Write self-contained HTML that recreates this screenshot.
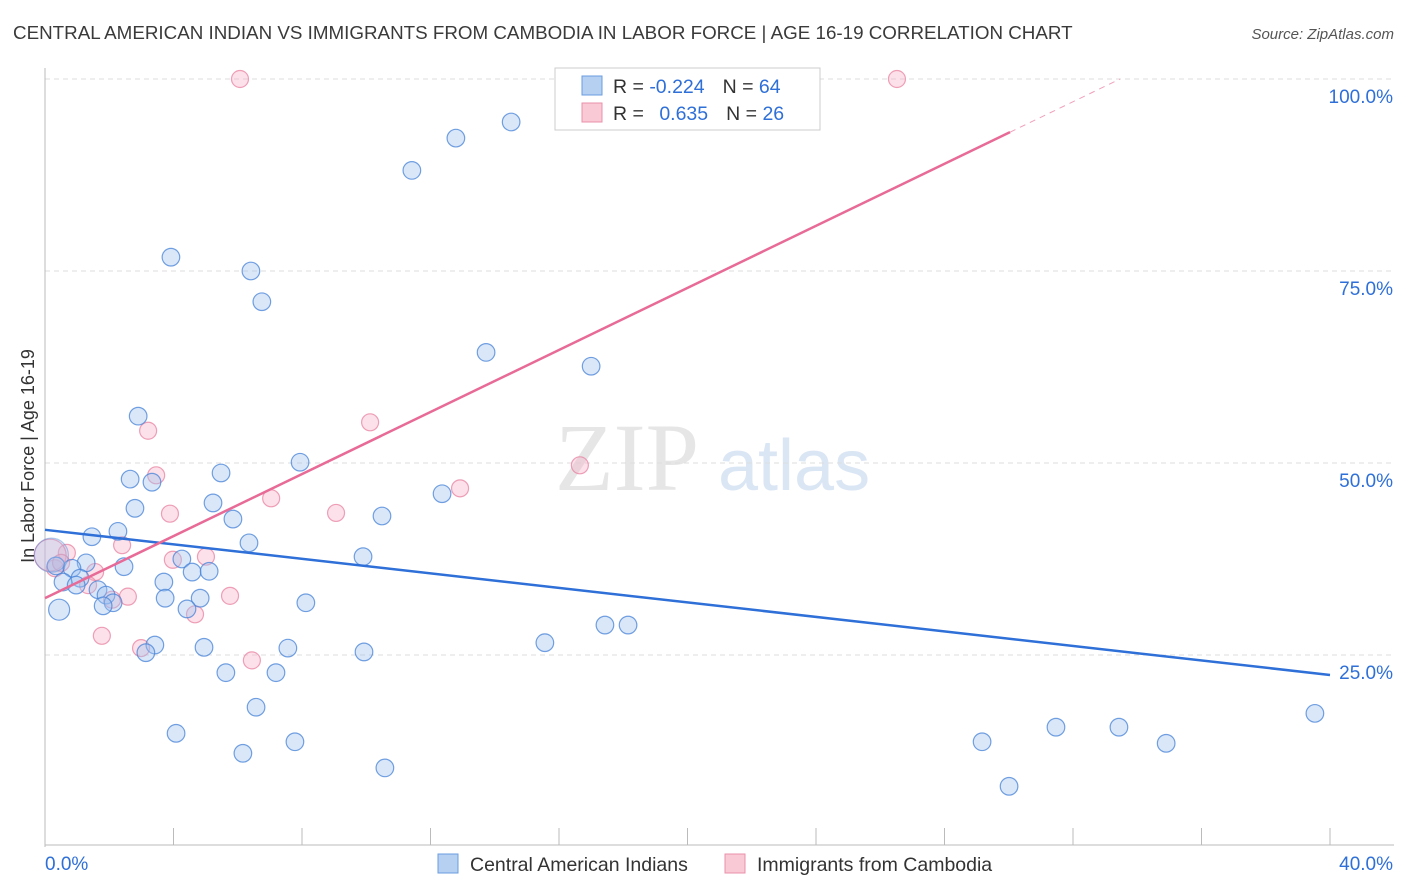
<!DOCTYPE html>
<html><head><meta charset="utf-8"><style>
body{margin:0;background:#fff;font-family:"Liberation Sans",sans-serif;}
svg{display:block}
</style></head><body>
<svg id="chart" width="1406" height="892" xmlns="http://www.w3.org/2000/svg">
<text x="13" y="39" font-size="18.8" fill="#3a3a3a">CENTRAL AMERICAN INDIAN VS IMMIGRANTS FROM CAMBODIA IN LABOR FORCE | AGE 16-19 CORRELATION CHART</text>
<text x="1394" y="39" font-size="15" font-style="italic" fill="#555" text-anchor="end">Source: ZipAtlas.com</text>
<g>
<text x="555" y="490" font-family="Liberation Serif,serif" font-size="96" fill="#e6e6e6">ZIP</text>
<text x="718" y="490" font-size="72" fill="#dbe6f5">atlas</text>
</g>
<g id="grid"></g>
<g id="axes"></g>
<g id="marks"></g>
<text transform="translate(34,456) rotate(-90)" font-size="18" fill="#333" text-anchor="middle">In Labor Force | Age 16-19</text>
<g>
<rect x="555" y="68" width="265" height="62" fill="#fff" stroke="#ccc"/>
<rect x="582" y="76" width="20" height="19" fill="#b6d0f2" stroke="#6a9de0"/>
<rect x="582" y="103" width="20" height="19" fill="#f9c9d6" stroke="#ea90ab"/>
<text x="613" y="93" font-size="19.5" fill="#333">R = <tspan fill="#2e6fd8">-0.224</tspan><tspan dx="18">N = </tspan><tspan fill="#2e6fd8">64</tspan></text>
<text x="613" y="120" font-size="19.5" fill="#333">R = <tspan dx="10" fill="#2e6fd8">0.635</tspan><tspan dx="18">N = </tspan><tspan fill="#2e6fd8">26</tspan></text>
</g>
<g>
<rect x="438" y="854" width="20" height="19" fill="#b6d0f2" stroke="#6a9de0"/>
<text x="470" y="871" font-size="19.5" fill="#333">Central American Indians</text>
<rect x="725" y="854" width="20" height="19" fill="#f9c9d6" stroke="#ea90ab"/>
<text x="757" y="871" font-size="19.5" fill="#333">Immigrants from Cambodia</text>
</g>
</svg>
<script>
const blueX=[14.51,12.79,11.42,3.92,6.41,6.75,13.73,17.0,2.90,7.94,5.48,2.65,3.33,12.36,5.23,2.80,5.85,10.49,2.27,1.46,6.35,9.90,4.26,2.46,1.28,0.34,0.84,4.58,5.11,1.09,0.56,0.97,3.70,1.65,1.90,3.74,4.83,2.12,1.81,4.42,0.44,8.12,17.43,18.15,7.56,3.42,4.95,3.14,9.93,15.56,5.63,7.19,6.57,4.08,7.78,6.16,10.58,29.17,31.47,33.43,34.90,30.01,39.53,0.2];
const blueY=[94.4,92.3,88.1,76.8,75.0,71.0,64.4,62.6,56.1,50.1,48.7,47.9,47.5,46.0,44.8,44.1,42.7,43.1,41.1,40.4,39.6,37.8,37.5,36.5,37.0,36.6,36.3,35.8,35.9,35.0,34.5,34.1,34.5,33.5,32.8,32.4,32.4,31.8,31.4,31.0,30.9,31.8,28.9,28.9,25.9,26.3,26.0,25.3,25.4,26.6,22.7,22.7,18.2,14.8,13.7,12.2,10.3,13.7,15.6,15.6,13.5,7.9,17.4,38.0];
const pinkX=[6.07,26.52,10.12,3.21,3.46,16.65,12.92,7.04,3.89,9.06,2.40,0.68,5.01,3.98,0.31,1.56,1.34,2.58,5.76,4.67,1.77,2.99,6.44,2.09,0.16,0.5];
const pinkY=[100,100,55.3,54.2,48.4,49.7,46.7,45.4,43.4,43.5,39.3,38.3,37.8,37.4,36.3,35.8,34.1,32.6,32.7,30.3,27.5,25.9,24.3,32.2,38.0,37.0];
const blueLine=[41.3,22.4]; // y at x=0 and x=40
const pinkLine=[32.4,2.02];  // intercept, slope
const yTicks=[25,50,75,100];
const xTickLabels=["0.0%","40.0%"];
const NS="http://www.w3.org/2000/svg";
const sx=v=>45+v*1285/40, sy=v=>847-v*7.68;
function mk(t,a,p){const e=document.createElementNS(NS,t);for(const k in a)e.setAttribute(k,a[k]);p.appendChild(e);return e;}
const grid=document.getElementById('grid'),axes=document.getElementById('axes'),marks=document.getElementById('marks');
yTicks.forEach(v=>{
 const l=mk('line',{x1:45,x2:1394,y1:sy(v),y2:sy(v),stroke:'#ddd','stroke-dasharray':'5,4'},grid);
 
 
 const t=mk('text',{x:1393,y:sy(v)+24,'font-size':19,fill:'#2e6fd8','text-anchor':'end'},axes);t.textContent=v.toFixed(1)+'%';
 
 
});
mk('line',{x1:45,x2:45,y1:68,y2:847,stroke:'#bbb'},axes);
const xa=mk('line',{x1:45,x2:1394,y1:845,y2:845,stroke:'#bbb'},axes);


for(let i=0;i<=10;i++){mk('line',{x1:sx(i*4),x2:sx(i*4),y1:828,y2:845,stroke:'#bbb'},axes);}
const t0=mk('text',{x:45,y:870,'font-size':19,fill:'#2e6fd8'},axes);t0.textContent=xTickLabels[0];


const t1=mk('text',{x:1393,y:870,'font-size':19,fill:'#2e6fd8','text-anchor':'end'},axes);t1.textContent=xTickLabels[1];


pinkX.forEach((x,i)=>{const r=(i==24)?16:8.5;
 const c=mk('circle',{cx:sx(x),cy:sy(pinkY[i]),r:r,fill:'rgba(246,170,195,0.35)',stroke:'rgba(232,130,160,0.75)','stroke-width':1.2},marks);
 
 });
blueX.forEach((x,i)=>{const r=(i==63)?17:(i==40?10.5:8.8);
 const c=mk('circle',{cx:sx(x),cy:sy(blueY[i]),r:r,fill:(i==63)?'rgba(160,195,240,0.3)':'rgba(160,195,240,0.4)',stroke:(i==63)?'rgba(70,130,215,0.4)':'rgba(70,130,215,0.75)','stroke-width':1.2},marks);
 
 });
const bl=mk('line',{x1:sx(0),y1:sy(blueLine[0]),x2:sx(40),y2:sy(blueLine[1]),stroke:'#2e6fd8','stroke-width':2.5},marks);


const pEnd=30.04, pMax=(100-pinkLine[0])/pinkLine[1];
const pl=mk('line',{x1:sx(0),y1:sy(pinkLine[0]),x2:sx(pEnd),y2:sy(pinkLine[0]+pinkLine[1]*pEnd),stroke:'#e86a96','stroke-width':2.5},marks);


const pd=mk('line',{x1:sx(pEnd),y1:sy(pinkLine[0]+pinkLine[1]*pEnd),x2:sx(pMax),y2:sy(100),stroke:'#f0a0bc','stroke-width':1,'stroke-dasharray':'6,5'},marks);


</script>
</body></html>
